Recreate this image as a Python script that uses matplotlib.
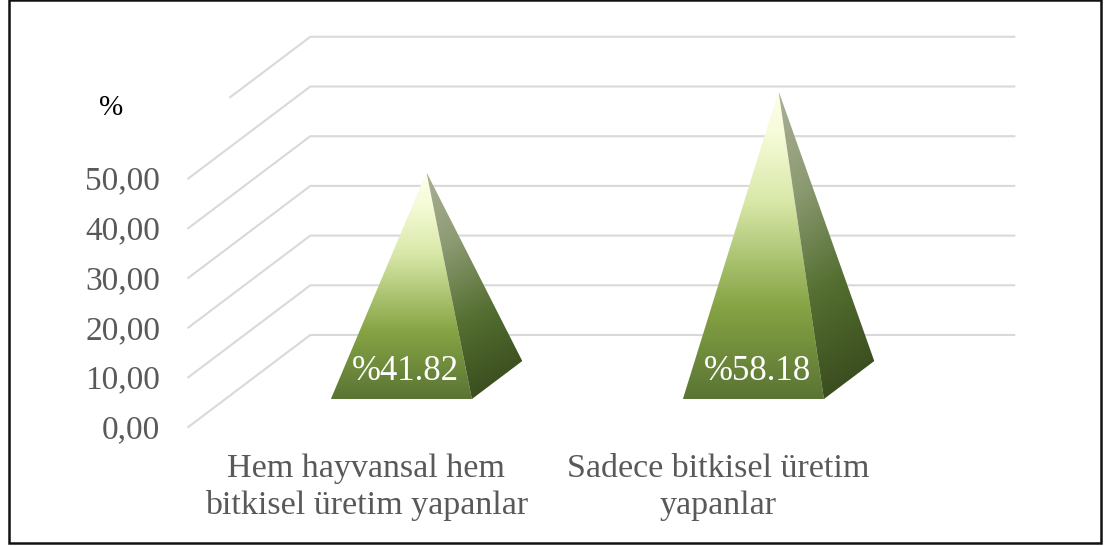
import numpy as np
import matplotlib
matplotlib.use("Agg")
import matplotlib.pyplot as plt
from matplotlib.colors import LinearSegmentedColormap
from matplotlib.patches import Polygon, Rectangle

categories = ["Hem hayvansal hem\nbitkisel üretim yapanlar", "Sadece bitkisel üretim\nyapanlar"]
values = [41.82, 58.18]
value_labels = ["%41.82", "%58.18"]
grid_levels = [0, 10, 20, 30, 40, 50, 60]
tick_levels = [0, 10, 20, 30, 40, 50]
tick_labels = ["0,00", "10,00", "20,00", "30,00", "40,00", "50,00"]
unit_label = "%"

plt.rcParams["font.family"] = ["Liberation Serif", "DejaVu Serif"]
W, H = 1109, 546
PX_CAT = 352.0
PX_VAL = 4.97
X0_PX = 364.3
Y0_PX = 427.0
DX = 122 / PX_CAT
DY = 92 / PX_VAL

fig = plt.figure(figsize=(W / 100, H / 100), dpi=100, facecolor="white")
ax = fig.add_axes([0, 0, 1, 1])
ax.set_xlim(-X0_PX / PX_CAT, (W - X0_PX) / PX_CAT)
ax.set_ylim(-(H - Y0_PX) / PX_VAL, Y0_PX / PX_VAL)
ax.axis("off")


def proj(x, v, d):
    return x + d * DX, v + d * DY


# gridlines
for lv in grid_levels:
    start = 0.344 if lv == 60 else 0.0
    pts = [proj(-0.5, lv, start), proj(-0.5, lv, 1), proj(1.5, lv, 1)]
    ax.plot(*zip(*pts), color="#D9D9D9", lw=1.5, solid_joinstyle="miter", zorder=1)

front_cmap = LinearSegmentedColormap.from_list(
    "front", [(0, "#FEFFEA"), (0.14, "#F6FBD8"), (0.36, "#D8E8A8"), (0.7, "#86A444"), (1, "#5A7434")])
side_cmap = LinearSegmentedColormap.from_list(
    "side", [(0, "#A9B096"), (0.3, "#8C9A72"), (0.62, "#536E30"), (1, "#33431A")])

HALF_W = 70.5 / PX_CAT
D_FRONT, D_BACK, D_MID = 0.304, 0.717, 0.51


def face(pts, cmap, mode):
    xs, ys = zip(*pts)
    ext = [min(xs), max(xs), min(ys), max(ys)]
    if mode == "v":
        g = np.linspace(0, 1, 256).reshape(-1, 1)
    else:
        u, w = np.meshgrid(np.linspace(0, 1, 128), np.linspace(0, 1, 256))
        g = np.clip(0.82 * w + 0.18 * u, 0, 1)
    im = ax.imshow(g, cmap=cmap, vmin=0, vmax=1, extent=ext, origin="upper",
                   aspect="auto", interpolation="bilinear", zorder=3)
    im.set_clip_path(Polygon(pts, closed=True, transform=ax.transData))


for i, v in enumerate(values):
    apex = proj(i, v, D_MID)
    fl = proj(i - HALF_W, 0, D_FRONT)
    fr = proj(i + HALF_W, 0, D_FRONT)
    br = proj(i + HALF_W, 0, D_BACK)
    face([apex, fl, fr], front_cmap, "v")
    face([apex, fr, br], side_cmap, "d")
    ax.text(i + 41 / PX_CAT, 55 / PX_VAL, value_labels[i], color="white", fontsize=25,
            ha="center", va="center", zorder=5)
    ax.text(i + 2 / PX_CAT, -60 / PX_VAL, categories[i], color="#595959", fontsize=24.5, ha="center",
            va="center", linespacing=1.26, zorder=5)

for lv, lab in zip(tick_levels, tick_labels):
    ax.text(-0.5 - 28 / PX_CAT, lv - 3 / PX_VAL, lab, color="#595959", fontsize=24, ha="right",
            va="center", zorder=5)

ax.text(-0.5 - 77 / PX_CAT, 319 / PX_VAL, unit_label, color="black", fontsize=21,
        ha="center", va="center", zorder=5)

ax.add_patch(Rectangle((8.5 / W, 3 / H), (1101 - 8.5) / W, (H - 3) / H, transform=ax.transAxes,
                       fill=False, ec="#111111", lw=1.8, zorder=6, clip_on=False))

ax.set_xlim(-X0_PX / PX_CAT, (W - X0_PX) / PX_CAT)
ax.set_ylim(-(H - Y0_PX) / PX_VAL, Y0_PX / PX_VAL)
fig.savefig("out.png", dpi=100, facecolor="white")
